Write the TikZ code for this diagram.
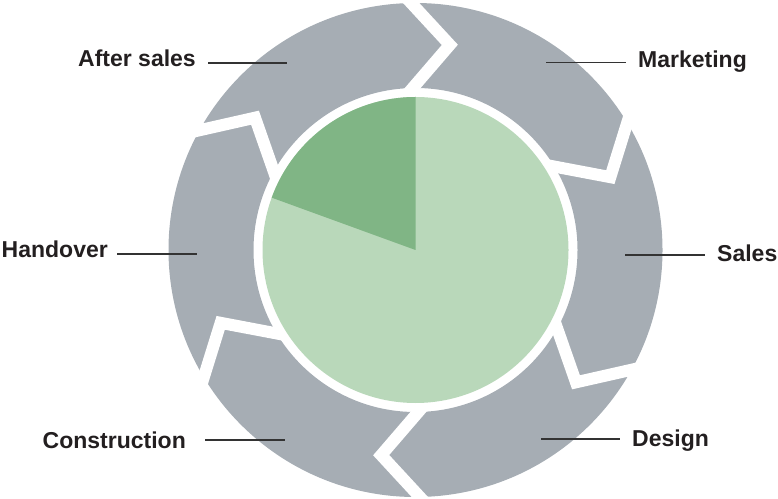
\documentclass[tikz,border=0pt]{standalone}
\usepackage{fontspec}
\setmainfont{Liberation Sans}
\usetikzlibrary{calc}
\definecolor{ringgray}{HTML}{A6ADB4}
\definecolor{lightg}{HTML}{B9D8BA}
\definecolor{darkg}{HTML}{80B585}
\definecolor{txt}{HTML}{231F20}
\definecolor{leadc}{HTML}{333333}
\begin{document}
\begin{tikzpicture}[x=1pt,y=1pt,
  lbl/.style={font=\bfseries\fontsize{23}{27}\selectfont, text=txt, inner sep=0pt},
  lead/.style={draw=leadc, line width=1.2pt},
  cut/.style={draw=white, line width=12pt, line join=miter, miter limit=20}]
\useasboundingbox (0,0) rectangle (778,498);
\coordinate (C) at (415.5,248);
\begin{scope}[shift={(C)}]
  \fill[ringgray, even odd rule] (0,0) circle (247) (0,0) circle (162);
  \foreach \b in {91,31,-29,-89,-149,151} {
    \coordinate (I) at (\b:162);
    \coordinate (T) at ({\b-10.5}:208);
    \coordinate (O) at (\b:247);
    \draw[cut] ($(T)!1.3!(I)$) -- (T) -- ($(T)!1.35!(O)$);
  }
  \fill[lightg] (0,0) circle (153);
  \fill[darkg] (0,0) -- (90:153) arc (90:160:153) -- cycle;
\end{scope}
% labels
\node[lbl, anchor=base east] (aftersales) at (196,431) {After sales};
\node[lbl, anchor=base west] (marketing) at (638,430) {Marketing};
\node[lbl, anchor=base west] (sales) at (717,236) {Sales};
\node[lbl, anchor=base west] (design) at (632,52) {Design};
\node[lbl, anchor=base east] (construction) at (186,50) {Construction};
\node[lbl, anchor=base east] (handover) at (108,240) {Handover};
% leader lines
\coordinate (asA) at (208,435); \coordinate (asB) at (287,435);
\coordinate (mkA) at (546,435.5); \coordinate (mkB) at (626,435.5);
\coordinate (saA) at (625,243); \coordinate (saB) at (705,243);
\coordinate (deA) at (541,59); \coordinate (deB) at (620,59);
\coordinate (coA) at (205,58); \coordinate (coB) at (285,58);
\coordinate (haA) at (117,244); \coordinate (haB) at (197,244);
\draw[lead] (asA) -- (asB);
\draw[lead] (mkA) -- (mkB);
\draw[lead] (saA) -- (saB);
\draw[lead] (deA) -- (deB);
\draw[lead] (coA) -- (coB);
\draw[lead] (haA) -- (haB);
\end{tikzpicture}
\end{document}
